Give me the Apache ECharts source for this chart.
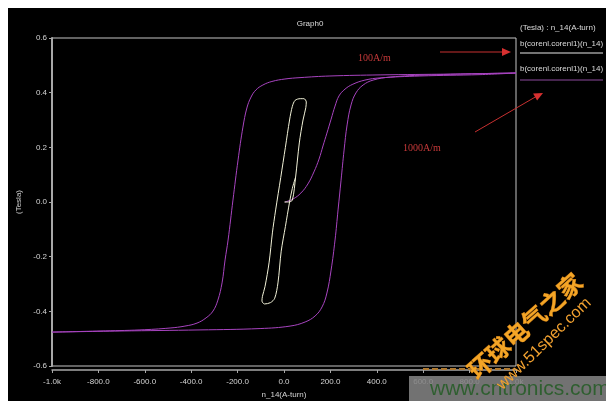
<!DOCTYPE html>
<html><head><meta charset="utf-8">
<script src="https://cdn.jsdelivr.net/npm/echarts@6/dist/echarts.min.js"></script>
<style>
html,body{margin:0;padding:0;background:#fff;width:609px;height:406px;overflow:hidden}
#c{position:absolute;left:8px;top:8px;width:598px;height:393px;}
</style>
</head><body><div id="c"></div>
<script>
// ---- data (H in A-turn, B in Tesla) ----
const xTickLabels = ['-1.0k','-800.0','-600.0','-400.0','-200.0','0.0','200.0','400.0','600.0','800.0','1.0k'];
const yTickLabels = ['-0.6','-0.4','-0.2','0.0','0.2','0.4','0.6'];

// 1000 A/m run (purple): initial magnetisation curve
const purpleInitH = [4, 39, 73, 103, 129, 151, 168, 185, 203, 220, 237, 263, 297, 349, 414, 586, 845, 1000];
const purpleInitB = [0.0, 0.011, 0.033, 0.066, 0.110, 0.157, 0.205, 0.252, 0.303, 0.351, 0.388, 0.413, 0.431, 0.446, 0.454, 0.461, 0.466, 0.472];
// descending (upper) branch
const purpleDescH = [1000, 716, 414, 198, 69, 4, -52, -91, -121, -142, -160, -177, -198, -220, -241, -254, -267, -285, -306, -336, -375, -427, -491, -621, -793, -1000];
const purpleDescB = [0.472, 0.468, 0.465, 0.461, 0.455, 0.450, 0.441, 0.428, 0.410, 0.384, 0.344, 0.274, 0.154, 0.007, -0.139, -0.212, -0.296, -0.359, -0.399, -0.424, -0.443, -0.454, -0.461, -0.468, -0.472, -0.476];
// ascending (lower) branch
const purpleAscH = [-1000, -707, -362, -103, 26, 91, 134, 164, 185, 203, 220, 233, 246, 259, 272, 289, 310, 341, 384, 457, 629, 1000];
const purpleAscB = [-0.476, -0.472, -0.468, -0.463, -0.454, -0.439, -0.417, -0.384, -0.333, -0.249, -0.139, -0.029, 0.080, 0.190, 0.282, 0.355, 0.399, 0.428, 0.446, 0.457, 0.465, 0.472];

// 100 A/m run (white) minor loop
const whiteH = [2, 20, 36, 50, 66, 82, 94, 96, 86, 70, 48, 36, 24, 6, -14, -36, -50, -64, -82, -93, -95, -84, -58, -40, -26, -12, 6, 24, 36, 50];
const whiteB = [0.0, 0.0, 0.007, 0.091, 0.216, 0.3, 0.345, 0.366, 0.378, 0.378, 0.372, 0.35, 0.3, 0.2, 0.09, -0.029, -0.113, -0.22, -0.31, -0.345, -0.362, -0.373, -0.368, -0.352, -0.296, -0.18, -0.09, 0.0, 0.05, 0.091];

function pairs(h, b) { return h.map((v, i) => [v, b[i]]); }
const purpleData = pairs(purpleInitH, purpleInitB)
  .concat(pairs(purpleDescH, purpleDescB))
  .concat(pairs(purpleAscH, purpleAscB));
const whiteData = pairs(whiteH, whiteB);

const FONT = 'Liberation Sans';
const chart = echarts.init(document.getElementById('c'));
const axisCol = '#a8a8a8';
const lblCol = '#d4d4d4';

chart.setOption({
  animation: false,
  backgroundColor: '#000',
  textStyle: { fontFamily: FONT },
  title: {
    text: 'Graph0', left: 297, top: 7, textAlign: 'center',
    textStyle: { color: '#dcdcdc', fontSize: 8, fontWeight: 'normal', fontFamily: FONT }
  },
  grid: { left: 44, top: 30, width: 464, height: 328, show: true, borderColor: '#c4c4c4', borderWidth: 1,
    backgroundColor: 'transparent', containLabel: false, outerBoundsMode: 'none' },
  xAxis: {
    type: 'value', min: -1000, max: 1000, interval: 200, offset: 4,
    axisLine: { show: true, onZero: false, lineStyle: { color: axisCol, width: 1.5 } },
    axisTick: { show: true, length: 3, lineStyle: { color: axisCol } },
    axisLabel: { color: lblCol, fontSize: 8, margin: 8,
      formatter: v => xTickLabels[Math.round((v + 1000) / 200)] },
    splitLine: { show: false },
    name: 'n_14(A-turn)', nameLocation: 'middle', nameGap: 21,
    nameTextStyle: { color: lblCol, fontSize: 8 }
  },
  yAxis: {
    type: 'value', min: -0.6, max: 0.6, interval: 0.2,
    axisLine: { show: true, onZero: false, lineStyle: { color: axisCol, width: 2 } },
    axisTick: { show: true, length: 3, lineStyle: { color: axisCol } },
    axisLabel: { color: lblCol, fontSize: 8, margin: 5,
      formatter: v => yTickLabels[Math.round((v + 0.6) / 0.2)] },
    splitLine: { show: false },
    name: '(Tesla)', nameLocation: 'middle', nameRotate: 90, nameGap: 28,
    nameTextStyle: { color: lblCol, fontSize: 8 }
  },
  series: [
    { name: 'b(corenl.corenl1)(n_14) white', type: 'line', data: whiteData, showSymbol: false, smooth: 0.3,
      lineStyle: { color: '#f2f2d8', width: 1 }, z: 3 },
    { name: 'b(corenl.corenl1)(n_14) purple', type: 'line', data: purpleData, showSymbol: false, smooth: 0.4,
      lineStyle: { color: '#a844c0', width: 1 }, z: 2 }
  ],
  graphic: { elements: [
    // legend
    { type: 'text', x: 512, y: 20, style: { text: '(Tesla) : n_14(A-turn)', fill: '#dcdcdc', fontSize: 8, fontFamily: FONT, verticalAlign: 'middle' } },
    { type: 'text', x: 512, y: 36, style: { text: 'b(corenl.corenl1)(n_14)', fill: '#dcdcdc', fontSize: 8, fontFamily: FONT, verticalAlign: 'middle' } },
    { type: 'line', shape: { x1: 512, y1: 45, x2: 595, y2: 45 }, style: { stroke: '#e8e8e8', lineWidth: 1 } },
    { type: 'text', x: 512, y: 61, style: { text: 'b(corenl.corenl1)(n_14)', fill: '#dcdcdc', fontSize: 8, fontFamily: FONT, verticalAlign: 'middle' } },
    { type: 'line', shape: { x1: 512, y1: 72, x2: 595, y2: 72 }, style: { stroke: '#8c4a9c', lineWidth: 1 } },
    // red annotations
    { type: 'text', x: 350, y: 50, style: { text: '100A/m', fill: '#c83a3a', fontSize: 10, fontFamily: 'Liberation Serif', verticalAlign: 'middle' } },
    { type: 'line', shape: { x1: 432, y1: 44, x2: 496, y2: 44 }, style: { stroke: '#c83030', lineWidth: 1 } },
    { type: 'polygon', shape: { points: [[503, 44], [494, 40], [494, 48]] }, style: { fill: '#d83030' } },
    { type: 'text', x: 395, y: 140, style: { text: '1000A/m', fill: '#c83a3a', fontSize: 10, fontFamily: 'Liberation Serif', verticalAlign: 'middle' } },
    { type: 'line', shape: { x1: 467, y1: 124, x2: 529, y2: 88 }, style: { stroke: '#c83030', lineWidth: 1 } },
    { type: 'polygon', shape: { points: [[535, 85], [529.1, 92.5], [525.1, 85.5]] }, style: { fill: '#d83030' } },
    // watermarks
    { type: 'line', z: 99, shape: { x1: 415, y1: 361, x2: 505, y2: 361 }, style: { stroke: '#b07a30', lineWidth: 2, lineDash: [6, 3] } },
    { type: 'rect', z: 100, shape: { x: 401, y: 368, width: 198, height: 25 }, style: { fill: 'rgba(130,130,130,0.88)' } },
    { type: 'text', z: 101, x: 422, y: 381, style: { text: 'www.cntronics.com', fill: '#2f5f30', fontSize: 21, fontFamily: FONT, verticalAlign: 'middle' } },
    { type: 'text', z: 102, x: 517, y: 318, rotation: 0.73, style: { text: '环球电气之家', fill: '#f4a526', stroke: '#b86a10', lineWidth: 0.6, fontSize: 24, fontWeight: 'bold', fontFamily: 'Noto Sans CJK SC', align: 'center', verticalAlign: 'middle' } },
    { type: 'text', z: 102, x: 536, y: 336, rotation: 0.77, style: { text: 'www.51spec.com', fill: '#f0a030', fontSize: 16, fontFamily: FONT, align: 'center', verticalAlign: 'middle' } }
  ] }
});
</script></body></html>
